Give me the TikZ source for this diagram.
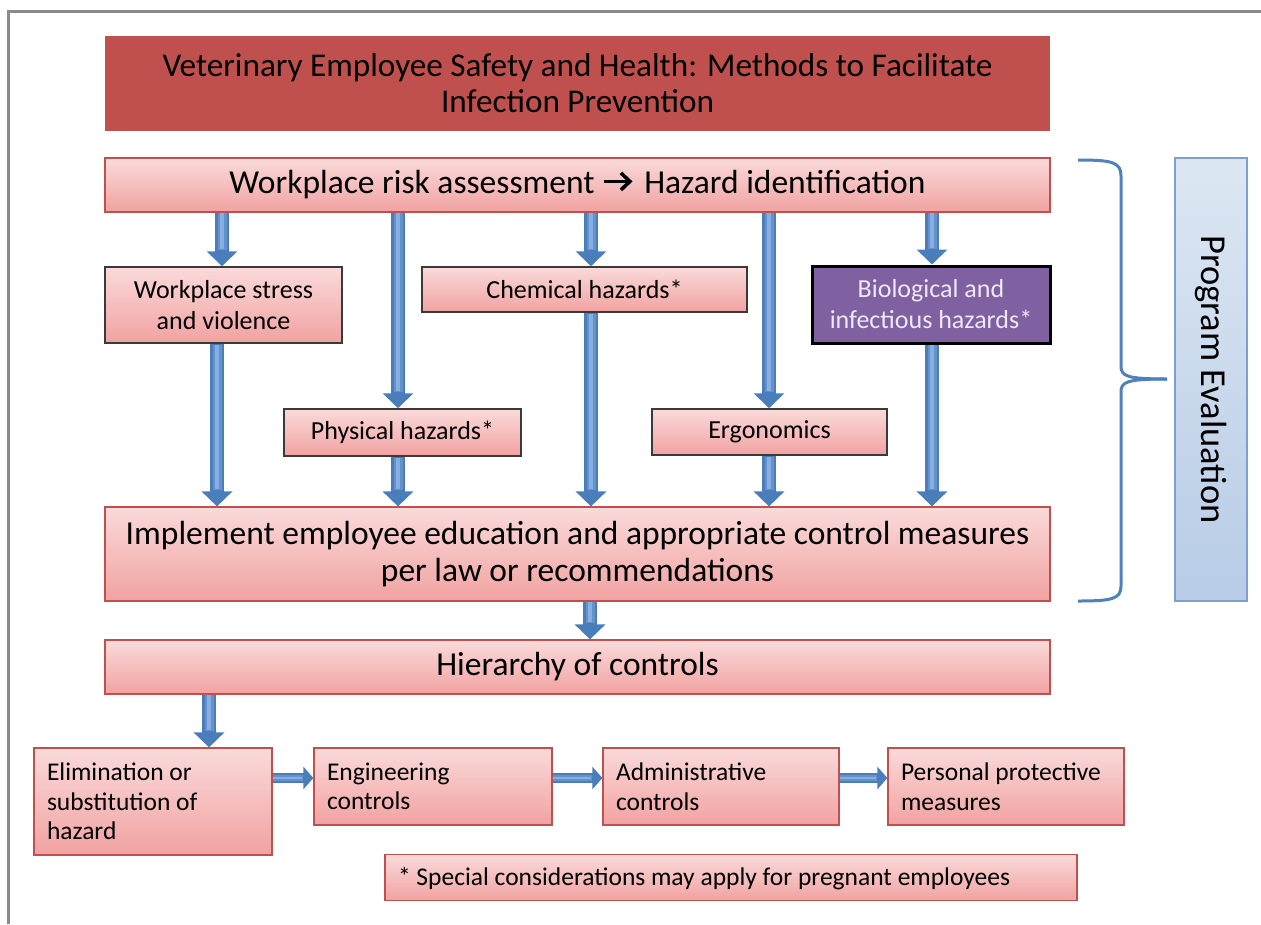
\documentclass[tikz,border=0pt]{standalone}
\usepackage{fontspec}
\setmainfont{Carlito}
\usetikzlibrary{arrows.meta}
\definecolor{titlered}{HTML}{C0504D}
\definecolor{pinktop}{HTML}{FADADA}
\definecolor{pinkbot}{HTML}{F1A2A1}
\definecolor{boxedge}{HTML}{C0504D}
\definecolor{darkline}{HTML}{3A3A3A}
\definecolor{purplefill}{HTML}{7F60A1}
\definecolor{purpletext}{HTML}{EFE8F6}
\definecolor{arrowblue}{HTML}{4A7EBB}
\definecolor{arrowmid}{HTML}{6592CD}
\definecolor{arrowlight}{HTML}{86AEE0}
\definecolor{bluetop}{HTML}{DDE7F3}
\definecolor{bluebot}{HTML}{B7CCE6}
\definecolor{blueedge}{HTML}{7F9ED2}
\definecolor{bracecol}{HTML}{4F81BD}
\definecolor{framegray}{HTML}{8A8A8A}
\newcommand{\fatarrow}{\tikz[x=1pt,y=1pt,baseline=-12.5pt]{%
  \draw[black, line width=3.6pt, line cap=butt] (0,0) -- (25,0);
  \draw[black, line width=3.6pt, line join=miter, line cap=butt] (17,8.5) -- (26,0) -- (17,-8.5);}}
\tikzset{
  titlefont/.style={font=\fontsize{33.2}{36}\selectfont},
  bigfont/.style={font=\fontsize{33.5}{37}\selectfont},
  midfont/.style={font=\fontsize{26}{31}\selectfont},
  ctrlfont/.style={font=\fontsize{25.5}{29.5}\selectfont},
  pinkbox/.style={draw=boxedge, line width=1.2pt, top color=pinktop, bottom color=pinkbot,
    inner sep=0pt, text=black, align=center},
  hazbox/.style={pinkbox, draw=darkline, line width=1.5pt, midfont},
  ctrlbox/.style={pinkbox, ctrlfont, align=flush left, inner xsep=13pt},
  barrow/.style={line width=14pt, draw=arrowblue, -{Triangle[width=30pt,length=15pt]},
    postaction={draw=arrowmid, line width=9pt, -, shorten >=16pt, shorten <=0.8pt},
    postaction={draw=arrowlight, line width=4pt, -, shorten >=17pt, shorten <=0.8pt}},
  harrow/.style={line width=10pt, draw=arrowblue, -{Triangle[width=22pt,length=10pt]},
    postaction={draw=arrowmid, line width=6pt, -, shorten >=10.5pt, shorten <=0.8pt},
    postaction={draw=arrowlight, line width=2.5pt, -, shorten >=11pt, shorten <=0.8pt}},
}
\begin{document}
\begin{tikzpicture}[x=1pt, y=-1pt]
\useasboundingbox (0,0) rectangle (1261,924);
\fill[white] (0,0) rectangle (1261,924);
\draw[framegray, line width=3pt] (8,924) -- (8,11.5) -- (1261,11.5);

% title
\node[fill=titlered, minimum width=945pt, minimum height=95pt, inner sep=0pt, align=center,
  titlefont] (title) at (577.5,83) {Veterinary Employee Safety and Health: Methods to Facilitate\\Infection Prevention};

% risk assessment
\node[pinkbox, bigfont, minimum width=945pt, minimum height=54pt] (risk) at (577.5,185)
  {Workplace risk assessment \fatarrow\hspace{5pt} Hazard identification};

% hazards
\node[hazbox, minimum width=237pt, minimum height=76pt] (stress) at (223.5,305) {Workplace stress\\and violence};
\node[hazbox, minimum width=325pt, minimum height=45pt] (chem) at (584.5,289.5) {Chemical hazards*};
\node[draw=black, line width=3pt, fill=purplefill, text=purpletext, midfont, align=center,
  minimum width=238pt, minimum height=77pt, inner sep=0pt] (bio) at (931,304.5) {Biological and\\infectious hazards*};
\node[hazbox, minimum width=237pt, minimum height=47pt] (phys) at (402.5,432.5) {Physical hazards*};
\node[hazbox, minimum width=235pt, minimum height=46pt] (ergo) at (769.5,432) {Ergonomics};

% implement
\node[pinkbox, bigfont, minimum width=945pt, minimum height=94pt] (impl) at (577.5,554)
  {Implement employee education and appropriate control measures\\per law or recommendations};

% hierarchy
\node[pinkbox, bigfont, minimum width=945pt, minimum height=54pt] (hier) at (577.5,667) {Hierarchy of controls};

% controls
\node[ctrlbox, text width=212pt, minimum width=238pt, minimum height=107pt] (elim) at (153,801.5) {Elimination or\\substitution of\\hazard};
\node[ctrlbox, text width=212pt, minimum width=238pt, minimum height=77pt] (eng) at (433,786.5) {Engineering\\controls};
\node[ctrlbox, text width=210pt, minimum width=236pt, minimum height=77pt] (adm) at (721,786.5) {Administrative\\controls};
\node[ctrlbox, text width=210pt, minimum width=236pt, minimum height=77pt] (ppe) at (1006,786.5) {Personal protective\\measures};

% footnote
\node[ctrlbox, text width=666pt, minimum width=692pt, minimum height=46pt, text depth=2pt] (note) at (731,877.5) {* Special considerations may apply for pregnant employees};

% program evaluation
\node[draw=blueedge, line width=1.2pt, top color=bluetop, bottom color=bluebot,
  minimum width=72pt, minimum height=443pt, inner sep=0pt] (prog) at (1211,379.5) {};
\node[rotate=-90, font=\fontsize{36.5}{40}\selectfont] (progtext) at (prog.center) {Program Evaluation};

% brace
\coordinate (bt) at (1078,160);
\coordinate (bm) at (1167,379);
\coordinate (bb) at (1078,601);
\draw[bracecol, line width=3pt]
  (bt) .. controls (1112,160) and (1121,162) .. (1121,176) -- (1121,366)
  .. controls (1121,376) and (1126,379) .. (bm);
\draw[bracecol, line width=3pt]
  (bm) .. controls (1126,379) and (1121,382) .. (1121,392) -- (1121,586)
  .. controls (1121,599) and (1112,601) .. (bb);

% arrows from risk
\draw[barrow] (risk.south -| 222,0) -- (stress.north -| 222,0);
\draw[barrow] (risk.south -| 398,0) -- (phys.north -| 398,0);
\draw[barrow] (risk.south -| 591,0) -- (chem.north -| 591,0);
\draw[barrow] (risk.south -| 769,0) -- (ergo.north -| 769,0);
\draw[barrow] (risk.south -| 932,0) -- (bio.north -| 932,0);
% arrows to implement
\draw[barrow] (stress.south -| 217,0) -- (impl.north -| 217,0);
\draw[barrow] (phys.south -| 398,0) -- (impl.north -| 398,0);
\draw[barrow] (chem.south -| 591,0) -- (impl.north -| 591,0);
\draw[barrow] (ergo.south -| 769,0) -- (impl.north -| 769,0);
\draw[barrow] (bio.south -| 932,0) -- (impl.north -| 932,0);
% implement to hierarchy, hierarchy to elimination
\draw[barrow] (impl.south -| 590,0) -- (hier.north -| 590,0);
\draw[barrow] (hier.south -| 209,0) -- (elim.north -| 209,0);
% horizontal chain
\draw[harrow] (elim.east |- 0,778) -- (eng.west |- 0,778);
\draw[harrow] (eng.east |- 0,778) -- (adm.west |- 0,778);
\draw[harrow] (adm.east |- 0,778) -- (ppe.west |- 0,778);
\end{tikzpicture}
\end{document}
